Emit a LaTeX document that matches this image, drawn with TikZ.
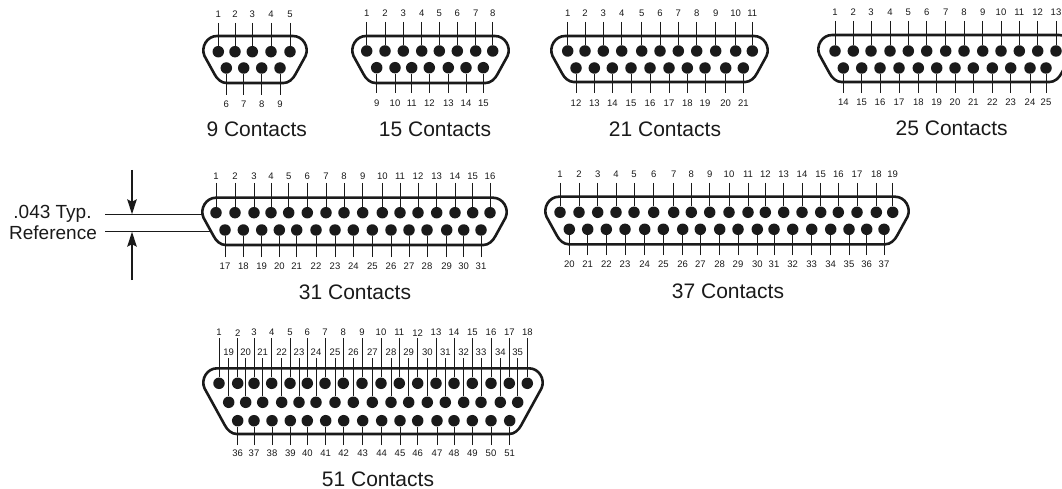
\documentclass[tikz,border=0pt]{standalone}
\usepackage{fontspec}
\setmainfont{Liberation Sans}
\usetikzlibrary{arrows.meta, positioning}
\definecolor{ink}{HTML}{1A1A1A}

\newcommand{\pinrow}[6]{%
  \foreach \x [count=\i from #2] in {#6} {
    \node[pin] (#1p\i) at (\x,#3) {};
    \node[pinlabel] (#1l\i) at (\x,#5) {\i};
    \coordinate (#1e\i) at (\x,#4);
    \draw[lead] (#1e\i) -- (#1p\i);
  }%
}
% left, right, top, bottom of the shell outline
\newcommand{\shell}[4]{%
  \pgfmathsetmacro{\dropx}{(#4-#3-29)*0.55+1.5}
  \draw[shellline] ({#1+14},#3) -- ({#2-14},#3)
    .. controls ({#2-4},#3) and ({#2+2.5},{#3+11}) .. ({#2-1.5},{#3+20})
    -- ({#2-\dropx},{#4-9})
    .. controls ({#2-\dropx-2.5},{#4-4}) and ({#2-\dropx-7},#4) .. ({#2-\dropx-12},#4)
    -- ({#1+\dropx+12},#4)
    .. controls ({#1+\dropx+7},#4) and ({#1+\dropx+2.5},{#4-4}) .. ({#1+\dropx},{#4-9})
    -- ({#1+1.5},{#3+20})
    .. controls ({#1-2.5},{#3+11}) and ({#1+4},#3) .. ({#1+14},#3) -- cycle;%
}

\begin{document}
\begin{tikzpicture}[x=1pt,y=-1pt,
  pin/.style={circle,fill=ink,minimum size=11.5pt,inner sep=0pt},
  pinlabel/.style={font=\fontsize{9.5}{10}\selectfont,text=ink,inner sep=0pt},
  lead/.style={draw=ink,line width=0.9pt},
  shellline/.style={draw=ink,line width=2.6pt},
  caption/.style={font=\fontsize{21}{23}\selectfont,text=ink,inner sep=0pt},
  dimlabel/.style={font=\fontsize{19}{21}\selectfont,text=ink,inner sep=0pt,text depth=0pt},
  dimline/.style={draw=ink,line width=1.2pt},
  dimarrow/.style={draw=ink,line width=1.3pt,-{Stealth[length=15pt,width=9.5pt,inset=2.5pt]}}]
\useasboundingbox (0,0) rectangle (1062,489);

%--- 9 contacts ---
\shell{203}{307}{36}{83}
\pinrow{a}{1}{51.7}{23}{14}{218.3,235,252.3,271,290}
\pinrow{a}{6}{68}{95}{104}{226.3,243.7,261.7,280}
\node[caption] (acap) at (256.7,129) {9 Contacts};

%--- 15 contacts ---
\shell{352}{509}{36}{83}
\pinrow{b}{1}{51}{22}{13}{366.7,385,403.3,421.7,439.3,457.3,475.7,492.7}
\pinrow{b}{9}{67.7}{93}{103}{376.7,395,411.7,429.3,448.3,466,483.3}
\node[caption] (bcap) at (435,129) {15 Contacts};

%--- 21 contacts ---
\shell{551}{768}{36}{82}
\pinrow{c}{1}{51}{22}{13}{567.7,585,603.3,621.7,641.7,660,678.3,696.7,715.7,735.7,752.3}
\pinrow{c}{12}{68}{93}{103}{576,594.3,612.3,631,650,669,687.3,705,725.7,743.3}
\node[caption] (ccap) at (665,129) {21 Contacts};

%--- 25 contacts ---
\shell{818}{1073}{35}{82}
\pinrow{d}{1}{51}{21}{12}{835,853.3,871,890,908.3,926.7,945.7,964,982.7,1001,1019.3,1037.7,1056}
\pinrow{d}{14}{68}{93}{102}{843.3,861.7,880,899,918.3,936.7,955,973.3,992.3,1010.7,1030,1046}
\node[caption] (dcap) at (951.7,128) {25 Contacts};

%--- 31 contacts ---
\shell{202}{507}{197.7}{245}
\pinrow{e}{1}{212.7}{183}{176}{216,235,254,271,288.7,307.3,326,344,362.7,382.3,400,418,436.7,455,472.7,490}
\pinrow{e}{17}{230}{257}{266}{225,243.3,261.7,279.3,296.7,316,335,353.3,372.3,391,409,427,446.7,463.7,481}
\node[caption] (ecap) at (355,292) {31 Contacts};

%--- 37 contacts ---
\shell{545}{909}{196.7}{244.3}
\pinrow{f}{1}{212.3}{183}{174}{560,579,597.7,616,634,653.7,673.7,691.3,709.7,729,748,765.3,783.7,802,820.7,838.3,857,876.3,892.7}
\pinrow{f}{20}{229.3}{255}{264}{569.3,587.7,606.3,625,644.7,663.3,682.7,700.3,719.7,738,757.3,774,792.7,811.7,830.7,849,866.7,884}
\node[caption] (fcap) at (728,291.7) {37 Contacts};

%--- 51 contacts ---
\shell{203}{543}{368.3}{434}
\pinrow{g}{1}{383.3}{338}{332.7}{219,237.7,254,271.7,290,307.3,325,343.3,362,381,399.3,417.7,436,454,472.3,491,509.3,527.3}
\pinrow{g}{19}{402.3}{358.3}{352.3}{228.7,245.7,262.7,281.7,299,316,335,353.3,372.3,391,408.7,427.3,445.3,463.7,481,500.3,517.7}
\pinrow{g}{36}{420.7}{445}{453.3}{237.7,254,272,290.3,307.3,325.7,343.7,362.7,381.7,400,417.7,437,454,472.3,491,509.7}
\node[caption] (gcap) at (378,479.3) {51 Contacts};

%--- reference dimension ---
\node[dimlabel] (typ) at (52.5,211.7) {.043 Typ.};
\node[dimlabel] (ref) at (53,232.7) {Reference};
\coordinate (typa) at (105,214.3);
\coordinate (typb) at (203,214.3);
\coordinate (refa) at (105,231.7);
\coordinate (refb) at (211,231.7);
\coordinate (uptop) at (132,170);
\coordinate (upend) at (132,214.3);
\coordinate (lowtop) at (132,280);
\coordinate (lowend) at (132,231.7);
\draw[dimline] (typa) -- (typb);
\draw[dimline] (refa) -- (refb);
\draw[dimarrow] (uptop) -- (upend);
\draw[dimarrow] (lowtop) -- (lowend);

\end{tikzpicture}
\end{document}
